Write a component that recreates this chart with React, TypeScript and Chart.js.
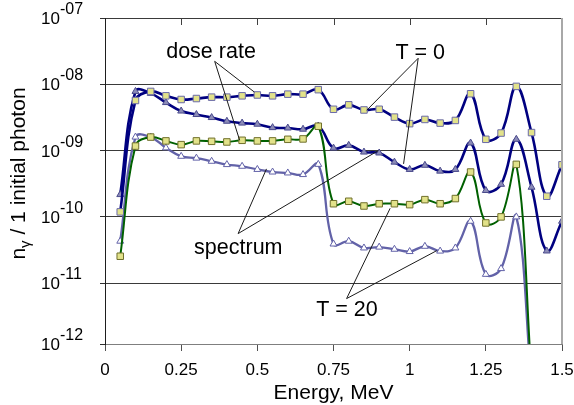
import React, { useEffect, useRef } from "react";
import { Chart, registerables } from "chart.js";

Chart.register(...registerables);

const FONT = '"Liberation Sans", Arial, Helvetica, sans-serif';

// Energy grid (MeV)
const energyMeV = [
  0.05, 0.1, 0.15, 0.2, 0.25, 0.3, 0.35, 0.4, 0.45, 0.5,
  0.55, 0.6, 0.65, 0.7, 0.75, 0.8, 0.85, 0.9, 0.95, 1.0,
  1.05, 1.1, 1.15, 1.2, 1.25, 1.3, 1.35, 1.4, 1.45, 1.5,
];

// T = 0, dose rate (navy line, yellow squares)
const doseRateT0 = [
  1.19e-10, 5.7e-9, 7.8e-9, 6.7e-9, 5.9e-9, 6.1e-9, 6.4e-9, 6.4e-9, 6.7e-9, 6.9e-9,
  6.7e-9, 7.1e-9, 7.1e-9, 8.3e-9, 4.2e-9, 4.9e-9, 4.1e-9, 4.2e-9, 3.2e-9, 2.55e-9,
  2.95e-9, 2.6e-9, 2.85e-9, 7.2e-9, 1.48e-9, 1.84e-9, 9.3e-9, 1.87e-9, 2.05e-10, 6.1e-10,
];

// T = 0, spectrum (navy line, grey-blue triangles)
const spectrumT0 = [
  2.17e-10, 7.8e-9, 7.3e-9, 5.3e-9, 3.95e-9, 3.5e-9, 3.15e-9, 2.77e-9, 2.6e-9, 2.5e-9,
  2.22e-9, 2.19e-9, 2.1e-9, 2.35e-9, 1.09e-9, 1.2e-9, 9.5e-10, 9.2e-10, 6.7e-10, 5.2e-10,
  6.0e-10, 4.9e-10, 5.2e-10, 1.3e-9, 2.5e-10, 3.1e-10, 1.48e-9, 2.8e-10, 3.06e-11, 8.6e-11,
];

// T = 20, dose rate (green line, yellow squares)
const doseRateT20 = [
  2.55e-11, 1.17e-9, 1.6e-9, 1.4e-9, 1.23e-9, 1.4e-9, 1.38e-9, 1.35e-9, 1.43e-9, 1.4e-9,
  1.4e-9, 1.48e-9, 1.5e-9, 2.33e-9, 1.58e-10, 1.72e-10, 1.46e-10, 1.58e-10, 1.58e-10, 1.53e-10,
  1.82e-10, 1.58e-10, 1.89e-10, 4.75e-10, 8.1e-11, 1.0e-10, 6.2e-10, 4e-13, null, null,
];

// T = 20, spectrum (slate line, white triangles)
const spectrumT20 = [
  4.3e-11, 1.6e-9, 1.6e-9, 1.1e-9, 8.2e-10, 7.7e-10, 6.9e-10, 6.15e-10, 5.8e-10, 5.2e-10,
  4.75e-10, 4.6e-10, 4.35e-10, 6.2e-10, 3.9e-11, 4.3e-11, 3.4e-11, 3.5e-11, 3.25e-11, 3.0e-11,
  3.6e-11, 3.05e-11, 3.4e-11, 8.6e-11, 1.36e-11, 1.66e-11, 1.0e-10, 3e-13, null, null,
];

// Axes
const xMin = 0;
const xMax = 1.5;
const xTickStep = 0.25;
const yTickValues = [1.21e-12, 1e-11, 1e-10, 1e-9, 1e-8, 1e-7];
const yTickExponents = ["-12", "-11", "-10", "-09", "-08", "-07"];
const xTitle = "Energy, MeV";
const yTitleMain = "n";
const yTitleSub = "\u03b3";
const yTitleRest = " / 1 initial photon";

// Annotations (data coordinates)
const annotationTexts = ["dose rate", "T = 0", "spectrum", "T = 20"];
const annotationAnchors = [
  [0.348, 2.53e-8],
  [1.0345, 2.44e-8],
  [0.4375, 2.73e-11],
  [0.794, 3.2e-12],
];
const leaderStarts = [
  [0.36, 2.22e-8],
  [1.028, 2.47e-8],
  [0.437, 5.6e-11],
  [0.793, 5.86e-12],
];
const leaderEnds = [
  [[0.49, 7.65e-9], [0.442, 1.43e-9]],
  [[0.859, 4.06e-9], [0.98, 6.3e-10]],
  [[0.53, 5.3e-10], [0.897, 1.0e-9]],
  [[0.936, 1.35e-10], [1.089, 3.1e-11]],
];

const toPoints = (ys: (number | null)[]) =>
  energyMeV.map((x, i) => ({ x, y: ys[i] }));

const decorPlugin = {
  id: "decor",
  afterDraw(chart: any) {
    const { ctx, chartArea: a } = chart;
    const xs = chart.scales.x;
    const ys = chart.scales.y;
    ctx.save();

    // right frame line
    ctx.strokeStyle = "#a8a8a8";
    ctx.lineWidth = 2;
    ctx.beginPath();
    ctx.moveTo(a.right, a.top);
    ctx.lineTo(a.right, a.bottom);
    ctx.stroke();

    // top inward ticks
    ctx.strokeStyle = "#404040";
    ctx.lineWidth = 1;
    for (let v = xTickStep; v < xMax - 1e-9; v += xTickStep) {
      const px = Math.round(xs.getPixelForValue(v)) + 0.5;
      ctx.beginPath();
      ctx.moveTo(px, a.top);
      ctx.lineTo(px, a.top + 7);
      ctx.stroke();
    }

    // y tick labels 10^-xx
    ctx.fillStyle = "#000";
    ctx.textAlign = "left";
    ctx.textBaseline = "alphabetic";
    yTickValues.forEach((v, i) => {
      const py = ys.getPixelForValue(v);
      ctx.font = `17px ${FONT}`;
      ctx.fillText("10", 41, py + 6);
      ctx.font = `16px ${FONT}`;
      ctx.fillText(yTickExponents[i], 60, py - 4);
    });

    // y title with subscript
    ctx.save();
    ctx.translate(25, 173.5);
    ctx.rotate(-Math.PI / 2);
    ctx.font = `21px ${FONT}`;
    const wN = ctx.measureText(yTitleMain).width;
    const wR = ctx.measureText(yTitleRest).width;
    ctx.font = `15px ${FONT}`;
    const wG = ctx.measureText(yTitleSub).width;
    const total = wN + wG + wR;
    let sx = -total / 2;
    ctx.font = `21px ${FONT}`;
    ctx.fillText(yTitleMain, sx, 0);
    sx += wN;
    ctx.font = `15px ${FONT}`;
    ctx.fillText(yTitleSub, sx, 5);
    sx += wG;
    ctx.font = `21px ${FONT}`;
    ctx.fillText(yTitleRest, sx, 0);
    ctx.restore();

    // leader lines
    ctx.strokeStyle = "#1a1a1a";
    ctx.lineWidth = 1;
    leaderStarts.forEach((s, i) => {
      const sxp = xs.getPixelForValue(s[0]);
      const syp = ys.getPixelForValue(s[1]);
      leaderEnds[i].forEach((e) => {
        ctx.beginPath();
        ctx.moveTo(sxp, syp);
        ctx.lineTo(xs.getPixelForValue(e[0]), ys.getPixelForValue(e[1]));
        ctx.stroke();
      });
    });

    // annotation texts
    ctx.font = `21.5px ${FONT}`;
    ctx.textAlign = "center";
    ctx.fillStyle = "#000";
    annotationTexts.forEach((t, i) => {
      const [ax, ay] = annotationAnchors[i];
      ctx.fillText(t, xs.getPixelForValue(ax), ys.getPixelForValue(ay));
    });

    ctx.restore();
  },
};

export default function App() {
  const canvasRef = useRef<HTMLCanvasElement | null>(null);

  useEffect(() => {
    document.body.style.margin = "0";
    const canvas = canvasRef.current;
    if (!canvas) return;
    Chart.defaults.font.family = FONT;
    Chart.defaults.color = "#000";

    const chart = new Chart(canvas, {
      type: "line",
      data: {
        datasets: [
          {
            label: "T = 0 dose rate",
            data: toPoints(doseRateT0),
            borderColor: "#000080",
            borderWidth: 2.6,
            tension: 0.4,
            pointStyle: "rect",
            pointRadius: 4.6,
            pointBackgroundColor: "#e2e28a",
            pointBorderColor: "#6a6aa8",
            pointBorderWidth: 1,
          },
          {
            label: "T = 20 dose rate",
            data: toPoints(doseRateT20),
            borderColor: "#006000",
            borderWidth: 2,
            tension: 0.4,
            pointStyle: "rect",
            pointRadius: 4.6,
            pointBackgroundColor: "#e2e28a",
            pointBorderColor: "#70702c",
            pointBorderWidth: 1,
          },
          {
            label: "T = 0 spectrum",
            data: toPoints(spectrumT0),
            borderColor: "#000080",
            borderWidth: 2.6,
            tension: 0.4,
            pointStyle: "triangle",
            pointRadius: 4,
            pointBackgroundColor: "#8c8cb8",
            pointBorderColor: "#4a4a8c",
            pointBorderWidth: 1,
          },
          {
            label: "T = 20 spectrum",
            data: toPoints(spectrumT20),
            borderColor: "#6262a8",
            borderWidth: 2.3,
            tension: 0.4,
            pointStyle: "triangle",
            pointRadius: 4,
            pointBackgroundColor: "#ffffff",
            pointBorderColor: "#6262a8",
            pointBorderWidth: 1,
          },
        ],
      },
      options: {
        animation: false,
        responsive: true,
        maintainAspectRatio: false,
        layout: { padding: { top: 18, right: 12, left: 0, bottom: 0 } },
        plugins: {
          legend: { display: false },
          tooltip: { enabled: false },
        },
        elements: { line: { fill: false } },
        scales: {
          x: {
            type: "linear",
            min: xMin,
            max: xMax,
            afterFit: (s: any) => {
              s.height = 61;
              s.paddingLeft = 0;
              s.paddingRight = 0;
            },
            afterBuildTicks: (s: any) => {
              const t = [];
              for (let v = xMin; v <= xMax + 1e-9; v += xTickStep) {
                t.push({ value: Math.round(v * 100) / 100 });
              }
              s.ticks = t;
            },
            ticks: {
              callback: (v: any) => String(Math.round(Number(v) * 100) / 100),
              font: { size: 17, family: FONT },
              color: "#000",
              padding: 9,
              maxRotation: 0,
              minRotation: 0,
              autoSkip: false,
            },
            grid: {
              display: true,
              drawOnChartArea: false,
              drawTicks: true,
              tickLength: 7,
              tickColor: "#505050",
            },
            border: { display: true, color: "#7f7f7f", width: 1 },
            title: {
              display: true,
              text: xTitle,
              font: { size: 21, family: FONT, lineHeight: 1.1 },
              color: "#000",
              padding: { top: 0, bottom: 0 },
            },
          },
          y: {
            type: "logarithmic",
            min: yTickValues[0],
            max: yTickValues[yTickValues.length - 1],
            afterFit: (s: any) => {
              s.width = 105;
            },
            afterBuildTicks: (s: any) => {
              s.ticks = yTickValues.map((v) => ({ value: v }));
            },
            ticks: { display: false },
            grid: {
              display: true,
              drawOnChartArea: true,
              drawTicks: true,
              tickLength: 5,
              color: (c: any) => (c.index === 0 ? "rgba(0,0,0,0)" : "#3a3a3a"),
              tickColor: "#303030",
              lineWidth: 1,
            },
            border: { display: true, color: "#1e1e1e", width: 1 },
          },
        },
      },
      plugins: [decorPlugin],
    });

    return () => chart.destroy();
  }, []);

  return (
    <div style={{ width: 574, height: 405, position: "relative" }}>
      <canvas ref={canvasRef} />
    </div>
  );
}
